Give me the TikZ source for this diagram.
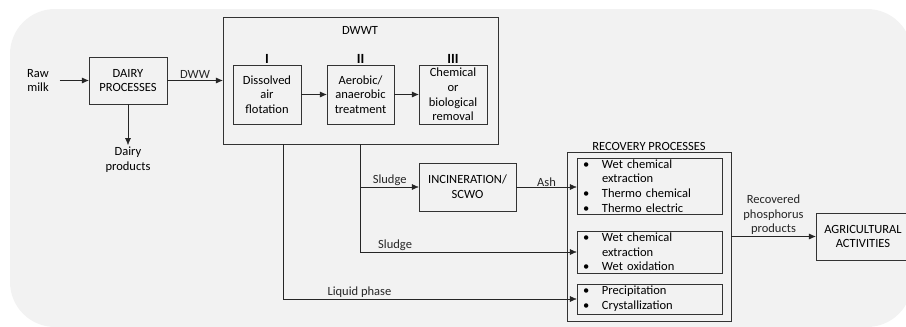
\documentclass[tikz,border=0pt]{standalone}
\usepackage{fontspec}
\setmainfont{Carlito}
\usetikzlibrary{arrows.meta}

\definecolor{bggray}{HTML}{F2F2F2}
\newcommand{\itm}{\makebox[19pt][l]{\textbullet}}
\newcommand{\cnt}{\hspace*{19pt}}

\begin{document}
\begin{tikzpicture}[x=1pt,y=-1pt,
    font=\fontsize{12.5}{14.7}\selectfont,
    box/.style={draw=black!80, align=center, inner sep=2pt},
    rbox/.style={draw=black!80, align=left, inner xsep=6pt, inner ysep=1pt, text width=133pt},
    lbl/.style={inner sep=1.5pt, align=center},
    arr/.style={-{Latex[length=7pt,width=6pt]}, black!85},
    roman/.style={font=\fontsize{14}{15}\selectfont\bfseries}]
				% Background
				\useasboundingbox (0,0) rectangle (906,327);
				\clip (0,0) rectangle (906,327);
				\fill[bggray, rounded corners=45pt] (10,9) rectangle (912,327);
				% Dairy plant
				\node[lbl] (raw) at (38,80.5) {Raw\\milk};
				\node[box, minimum width=78, minimum height=47] (dairy) at (128,80.5) {DAIRY\\PROCESSES};
				\coordinate (prod) at (128,145);
				\node[lbl, below] (prodlbl) at (prod) {Dairy\\products};
				% DWWT
				\node[box, minimum width=275, minimum height=127] (dwwt) at (360.5,80.5) {};
				\node[lbl] (dwwtlbl) at (360,30) {DWWT};
				\node[box, minimum width=68, minimum height=59] (b1) at (267,94.5) {Dissolved\\air\\flotation};
				\node[box, minimum width=67, minimum height=59] (b2) at (360.5,94.5) {Aerobic/\\anaerobic\\treatment};
				\node[box, minimum width=68, minimum height=59] (b3) at (453,94.5) {Chemical\\or\\biological\\removal};
				\foreach \n/\r in {b1/I,b2/II,b3/III}
					\node[roman, above, inner sep=1pt] at (\n.north) {\r};
				\coordinate (tap) at ([xshift=-77.5pt]dwwt.south);
				% Incineration
				\node[box, minimum width=97, minimum height=48] (inc) at (467.5,187) {INCINERATION/\\SCWO};
				% Recovery
				\node[box, minimum width=164, minimum height=169] (rec) at (649,236.5) {};
				\node[lbl, above] (reclbl) at (rec.north) {RECOVERY PROCESSES};
				\node[rbox, minimum height=56] (r1) at (649.5,186)
					{\itm Wet chemical\\\cnt extraction\\\itm Thermo chemical\\\itm Thermo electric};
				\node[rbox, minimum height=42] (r2) at (649.5,252)
					{\itm Wet chemical\\\cnt extraction\\\itm Wet oxidation};
				\node[rbox, minimum height=30] (r3) at (649.5,299)
					{\itm Precipitation\\\itm Crystallization};
				\node[box, minimum width=94, minimum height=47] (agri) at (863,236.5) {AGRICULTURAL\\ACTIVITIES};
				% Flows
				\draw[arr, shorten <=9pt] (raw) -- (dairy);
				\draw[arr] (dairy) -- (prod);
				\draw[arr] (dairy) -- (dairy -| dwwt.west) node[lbl, midway, above] {DWW};
				\draw[arr] (b1) -- (b2);
				\draw[arr] (b2) -- (b3);
				\draw[arr] (dwwt.south) |- (inc) node[lbl, pos=0.75, above] {Sludge};
				\draw[arr] (inc) -- (inc -| r1.west) node[lbl, midway, above, inner sep=0.5pt] {Ash};
				\draw[arr] (dwwt.south) |- (r2) node[lbl, pos=0.58, above] {Sludge};
				\draw[arr] (tap) |- (r3) node[lbl, pos=0.63, above] {Liquid phase};
				\draw[arr] (rec.east |- agri) -- (agri) node[lbl, midway, above] {Recovered\\phosphorus\\products};
			\end{tikzpicture}
\end{document}
